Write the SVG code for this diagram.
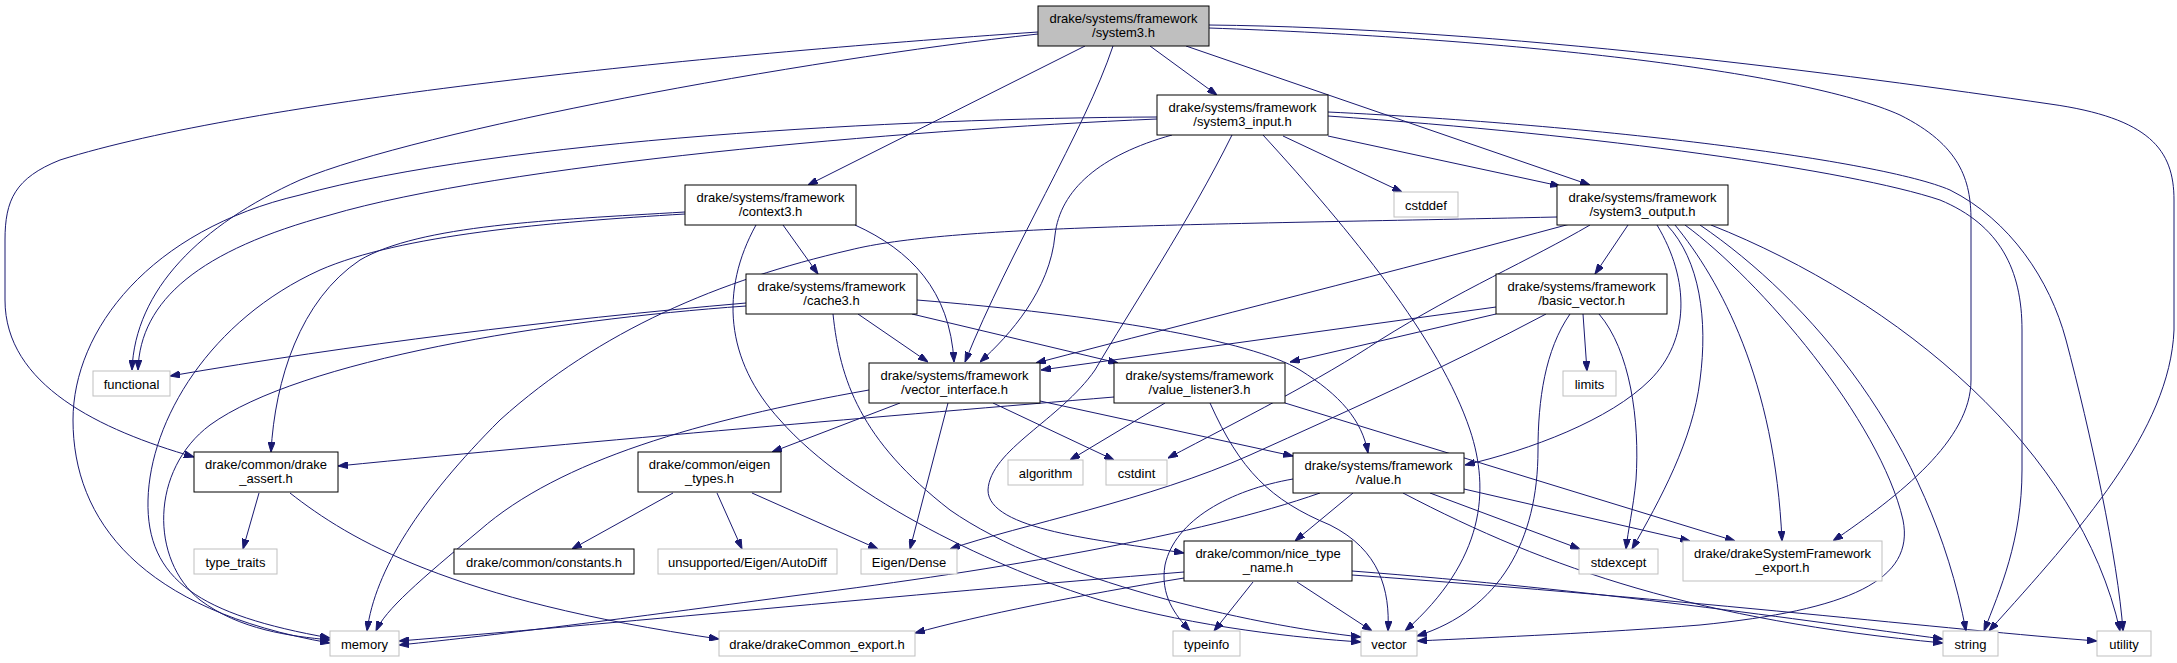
<svg xmlns="http://www.w3.org/2000/svg" width="2177" height="663" viewBox="0 0 2177 663">
<defs>
<style>
.b rect{fill:#ffffff;stroke:#000000;stroke-width:1}
.x rect{fill:#ffffff;stroke:#bfbfbf;stroke-width:1}
text{font-family:"Liberation Sans",Arial,sans-serif;font-size:13px;text-anchor:middle;fill:#000000}
#edges path{fill:none;stroke:#191970;stroke-width:1;marker-end:url(#arr)}
</style>
<marker id="arr" markerWidth="10" markerHeight="7" refX="10" refY="3.5" orient="auto" markerUnits="userSpaceOnUse">
<path d="M0,0 L10,3.5 L0,7 z" fill="#191970" stroke="#191970" stroke-width="1"/>
</marker>
</defs>
<rect x="0" y="0" width="2177" height="663" fill="#ffffff"/>
<g id="edges">
<path d="M1150,46 L1217,95"/>
<path d="M1085,46 L808,185"/>
<path d="M1113,46 C1085,130 1010,250 965,362"/>
<path d="M1186,46 L1590,185"/>
<path d="M1038,34 C800,60 420,130 300,180 C200,225 135,290 132,370"/>
<path d="M1038,32 C700,55 250,100 60,160 C15,178 5,200 5,240 L5,300 C5,385 100,430 194,457"/>
<path d="M1209,28 C1500,38 1800,70 1900,115 C1960,145 1971,180 1971,220 L1971,380 C1971,440 1900,495 1833,541"/>
<path d="M1209,25 C1500,28 1850,75 2050,104 C2150,118 2174,150 2174,200 L2174,330 C2170,430 2080,530 1989,631"/>
<path d="M1157,119 C900,130 500,165 330,215 C200,250 140,300 138,370"/>
<path d="M1157,117 C900,118 500,140 300,195 C150,230 73,330 73,420 C73,520 140,610 330,643"/>
<path d="M1172,135 C1100,155 1060,190 1055,235 C1050,290 1010,335 980,362"/>
<path d="M1232,135 C1190,220 1130,310 1095,370 C1060,420 990,450 988,490 C988,530 1100,540 1184,553"/>
<path d="M1263,135 C1350,230 1440,340 1470,430 C1490,490 1485,560 1405,631"/>
<path d="M1283,136 L1402,192"/>
<path d="M1328,136 L1560,186"/>
<path d="M1328,116 C1600,135 1850,170 1940,200 C2000,225 2022,270 2022,330 L2022,470 C2022,540 2000,590 1984,631"/>
<path d="M1328,112 C1600,125 1880,160 1950,190 C2010,220 2050,280 2066,340 C2090,430 2118,560 2123,631"/>
<path d="M783,225 L818,274"/>
<path d="M855,225 C910,250 950,290 954,362"/>
<path d="M685,212 C550,220 420,225 360,260 C300,300 275,380 271,452"/>
<path d="M685,214 C550,222 400,235 320,270 C210,320 150,420 148,500 C146,580 200,615 330,638"/>
<path d="M756,225 C720,290 725,360 780,420 C850,500 1000,570 1100,600 C1200,628 1300,638 1361,642"/>
<path d="M746,303 C550,320 350,345 170,376"/>
<path d="M746,306 C550,320 300,360 210,425 C150,470 150,560 200,600 C240,630 290,636 330,640"/>
<path d="M858,314 L928,362"/>
<path d="M912,314 L1118,363"/>
<path d="M917,300 C1100,315 1250,340 1300,370 C1340,395 1362,420 1368,453"/>
<path d="M833,314 C840,380 860,440 950,510 C1050,580 1250,625 1361,637"/>
<path d="M900,403 L772,452"/>
<path d="M948,403 L910,549"/>
<path d="M869,390 C700,420 560,460 480,530 C420,580 385,610 376,631"/>
<path d="M993,403 L1114,460"/>
<path d="M1040,401 L1293,456"/>
<path d="M1114,397 C900,415 600,440 338,466"/>
<path d="M1165,403 L1070,460"/>
<path d="M1210,403 C1240,470 1270,500 1330,525 C1380,550 1390,590 1388,631"/>
<path d="M1285,403 L1735,541"/>
<path d="M1496,307 L1041,370"/>
<path d="M1496,314 L1290,362"/>
<path d="M1546,314 C1450,365 1350,410 1250,455 C1150,500 1020,525 950,549"/>
<path d="M1583,314 L1587,371"/>
<path d="M1599,314 C1630,350 1640,420 1636,480 C1633,510 1628,530 1626,549"/>
<path d="M1570,314 C1545,350 1538,400 1538,450 C1538,540 1500,610 1417,636"/>
<path d="M1628,225 L1595,274"/>
<path d="M1557,217 C1200,225 950,225 850,250 C720,280 600,330 500,420 C420,500 375,570 367,631"/>
<path d="M1570,224 C1400,270 1200,320 1036,363"/>
<path d="M1590,225 C1530,260 1460,290 1380,340 C1320,380 1240,420 1168,458"/>
<path d="M1657,225 C1690,280 1690,340 1650,380 C1610,420 1530,450 1465,465"/>
<path d="M1667,225 C1700,260 1708,320 1700,380 C1693,440 1660,500 1632,549"/>
<path d="M1675,225 C1720,280 1775,380 1782,541"/>
<path d="M1685,225 C1760,280 1880,420 1903,520 C1915,580 1850,610 1700,625 C1600,633 1500,637 1417,641"/>
<path d="M1700,225 C1810,300 1930,440 1966,631"/>
<path d="M1711,225 C1900,300 2080,450 2120,631"/>
<path d="M259,493 L243,549"/>
<path d="M290,493 C350,540 450,600 719,639"/>
<path d="M673,493 L572,549"/>
<path d="M717,493 L742,549"/>
<path d="M752,493 L878,549"/>
<path d="M1353,493 L1295,541"/>
<path d="M1320,493 C1200,535 1000,570 800,595 C650,615 500,635 399,645"/>
<path d="M1293,479 C1230,490 1175,520 1165,565 C1160,595 1175,615 1190,631"/>
<path d="M1403,493 C1550,570 1700,620 1943,643"/>
<path d="M1430,493 L1580,549"/>
<path d="M1464,489 L1690,541"/>
<path d="M1253,582 L1214,631"/>
<path d="M1297,582 L1372,631"/>
<path d="M1352,571 C1600,590 1800,620 1943,639"/>
<path d="M1352,575 C1700,600 1950,630 2097,641"/>
<path d="M1184,572 C900,595 600,625 399,641"/>
<path d="M1184,578 C1080,595 980,615 915,633"/>
</g>
<g id="system3" class="b"><rect x="1038" y="6" width="171" height="40" style="fill:#bfbfbf"/><text x="1123.5" y="22.5">drake/systems/framework</text><text x="1123.5" y="36.5">/system3.h</text></g>
<g id="system3_input" class="b"><rect x="1157" y="95" width="171" height="40"/><text x="1242.5" y="111.5">drake/systems/framework</text><text x="1242.5" y="125.5">/system3_input.h</text></g>
<g id="context3" class="b"><rect x="685" y="185" width="171" height="40"/><text x="770.5" y="201.5">drake/systems/framework</text><text x="770.5" y="215.5">/context3.h</text></g>
<g id="cstddef" class="x"><rect x="1394" y="192" width="64" height="25"/><text x="1426" y="209.5">cstddef</text></g>
<g id="system3_output" class="b"><rect x="1557" y="185" width="171" height="40"/><text x="1642.5" y="201.5">drake/systems/framework</text><text x="1642.5" y="215.5">/system3_output.h</text></g>
<g id="cache3" class="b"><rect x="746" y="274" width="171" height="40"/><text x="831.5" y="290.5">drake/systems/framework</text><text x="831.5" y="304.5">/cache3.h</text></g>
<g id="basic_vector" class="b"><rect x="1496" y="274" width="171" height="40"/><text x="1581.5" y="290.5">drake/systems/framework</text><text x="1581.5" y="304.5">/basic_vector.h</text></g>
<g id="functional" class="x"><rect x="93" y="371" width="77" height="25"/><text x="131.5" y="388.5">functional</text></g>
<g id="limits" class="x"><rect x="1563" y="371" width="53" height="25"/><text x="1589.5" y="388.5">limits</text></g>
<g id="vector_interface" class="b"><rect x="869" y="363" width="171" height="40"/><text x="954.5" y="379.5">drake/systems/framework</text><text x="954.5" y="393.5">/vector_interface.h</text></g>
<g id="value_listener3" class="b"><rect x="1114" y="363" width="171" height="40"/><text x="1199.5" y="379.5">drake/systems/framework</text><text x="1199.5" y="393.5">/value_listener3.h</text></g>
<g id="drake_assert" class="b"><rect x="194" y="452" width="144" height="40"/><text x="266" y="468.5">drake/common/drake</text><text x="266" y="482.5">_assert.h</text></g>
<g id="eigen_types" class="b"><rect x="638" y="452" width="143" height="40"/><text x="709.5" y="468.5">drake/common/eigen</text><text x="709.5" y="482.5">_types.h</text></g>
<g id="algorithm" class="x"><rect x="1008" y="460" width="75" height="25"/><text x="1045.5" y="477.5">algorithm</text></g>
<g id="cstdint" class="x"><rect x="1106" y="460" width="61" height="25"/><text x="1136.5" y="477.5">cstdint</text></g>
<g id="value" class="b"><rect x="1293" y="453" width="171" height="40"/><text x="1378.5" y="469.5">drake/systems/framework</text><text x="1378.5" y="483.5">/value.h</text></g>
<g id="type_traits" class="x"><rect x="194" y="549" width="83" height="25"/><text x="235.5" y="566.5">type_traits</text></g>
<g id="constants" class="b"><rect x="454" y="549" width="180" height="25"/><text x="544" y="566.5">drake/common/constants.h</text></g>
<g id="autodiff" class="x"><rect x="658" y="549" width="179" height="25"/><text x="747.5" y="566.5">unsupported/Eigen/AutoDiff</text></g>
<g id="eigen_dense" class="x"><rect x="861" y="549" width="96" height="25"/><text x="909" y="566.5">Eigen/Dense</text></g>
<g id="nice_type_name" class="b"><rect x="1184" y="541" width="168" height="40"/><text x="1268" y="557.5">drake/common/nice_type</text><text x="1268" y="571.5">_name.h</text></g>
<g id="stdexcept" class="x"><rect x="1579" y="549" width="79" height="25"/><text x="1618.5" y="566.5">stdexcept</text></g>
<g id="system_framework_export" class="x"><rect x="1683" y="541" width="199" height="40"/><text x="1782.5" y="557.5">drake/drakeSystemFramework</text><text x="1782.5" y="571.5">_export.h</text></g>
<g id="memory" class="x"><rect x="330" y="631" width="69" height="25"/><text x="364.5" y="648.5">memory</text></g>
<g id="common_export" class="x"><rect x="719" y="631" width="196" height="25"/><text x="817" y="648.5">drake/drakeCommon_export.h</text></g>
<g id="typeinfo" class="x"><rect x="1173" y="631" width="67" height="25"/><text x="1206.5" y="648.5">typeinfo</text></g>
<g id="vector" class="x"><rect x="1361" y="631" width="56" height="25"/><text x="1389" y="648.5">vector</text></g>
<g id="string" class="x"><rect x="1943" y="631" width="55" height="25"/><text x="1970.5" y="648.5">string</text></g>
<g id="utility" class="x"><rect x="2097" y="631" width="54" height="25"/><text x="2124" y="648.5">utility</text></g>
</svg>
